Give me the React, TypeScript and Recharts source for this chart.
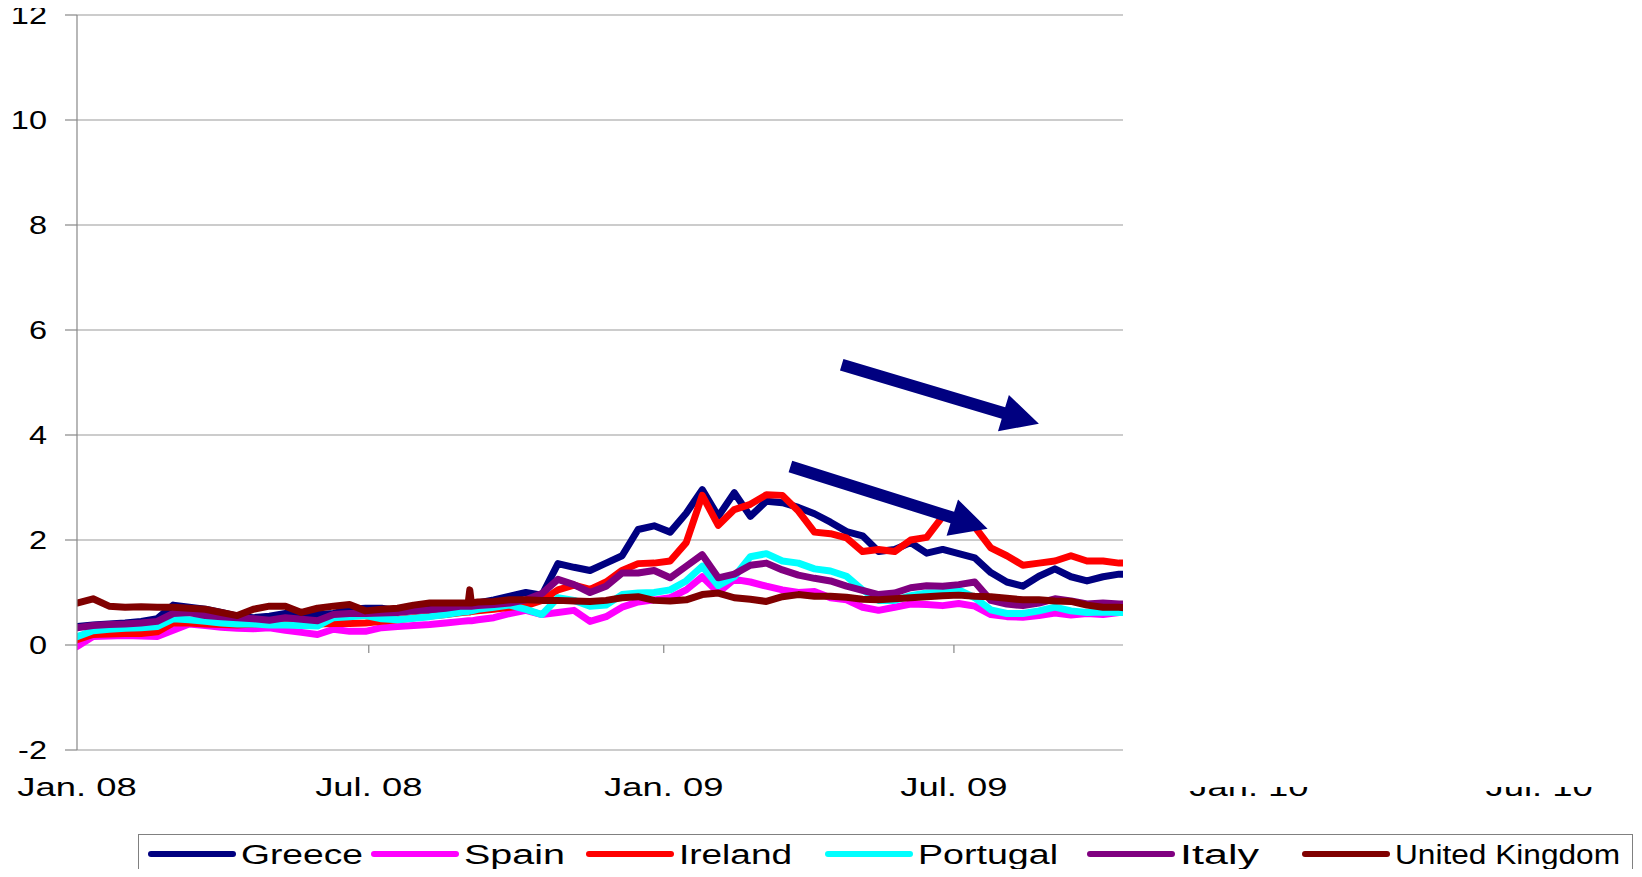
import React from "react";
import { LineChart, Line, XAxis, YAxis, CartesianGrid, ReferenceLine } from "recharts";

// days since 1 Jan 2008
const days = [0,10,20,30,40,50,60,70,80,90,100,110,120,130,140,150,160,170,180,190,200,210,220,230,240,244,245,246,250,260,270,280,290,300,310,320,330,340,350,360,370,380,390,400,410,420,430,440,450,460,470,480,490,500,510,520,530,540,550,560,570,580,590,600,610,620,630,640,650,656];

const greece = [0.35,0.38,0.40,0.42,0.45,0.50,0.76,0.72,0.68,0.62,0.55,0.52,0.55,0.60,0.60,0.58,0.60,0.68,0.70,0.70,0.65,0.68,0.71,0.74,0.76,0.77,0.77,0.78,0.80,0.86,0.93,1.00,0.95,1.55,1.48,1.42,1.56,1.70,2.20,2.27,2.15,2.51,2.96,2.45,2.90,2.45,2.74,2.71,2.62,2.50,2.34,2.16,2.08,1.78,1.82,1.95,1.75,1.82,1.74,1.66,1.38,1.20,1.12,1.31,1.45,1.30,1.22,1.30,1.35,1.35];
const spain = [-0.03,0.16,0.17,0.18,0.17,0.16,0.28,0.40,0.37,0.34,0.32,0.31,0.33,0.28,0.24,0.20,0.30,0.26,0.26,0.33,0.35,0.37,0.39,0.42,0.45,0.46,0.46,0.46,0.48,0.52,0.60,0.66,0.58,0.62,0.66,0.45,0.54,0.72,0.82,0.86,0.90,1.05,1.30,1.00,1.25,1.20,1.12,1.05,1.00,1.02,0.90,0.86,0.72,0.66,0.72,0.78,0.77,0.75,0.79,0.74,0.58,0.54,0.53,0.56,0.61,0.57,0.60,0.58,0.62,0.62];
const ireland = [0.10,0.20,0.21,0.22,0.22,0.25,0.42,0.42,0.40,0.39,0.38,0.40,0.40,0.40,0.40,0.40,0.41,0.41,0.42,0.45,0.48,0.52,0.55,0.58,0.62,0.63,0.63,0.64,0.65,0.68,0.72,0.75,0.85,1.05,1.14,1.06,1.20,1.42,1.55,1.56,1.60,1.95,2.85,2.28,2.58,2.68,2.86,2.85,2.55,2.15,2.12,2.04,1.78,1.82,1.78,2.00,2.05,2.45,2.45,2.25,1.85,1.70,1.52,1.56,1.60,1.70,1.60,1.60,1.56,1.56];
const portugal = [0.16,0.27,0.30,0.32,0.33,0.35,0.50,0.48,0.45,0.42,0.40,0.40,0.38,0.38,0.37,0.36,0.52,0.54,0.56,0.50,0.48,0.51,0.54,0.58,0.63,0.64,0.65,0.65,0.68,0.72,0.76,0.68,0.58,0.90,0.85,0.74,0.76,0.96,0.99,1.00,1.05,1.22,1.50,1.13,1.30,1.68,1.74,1.60,1.56,1.45,1.41,1.31,1.05,0.85,0.85,0.94,0.99,1.00,1.05,0.90,0.67,0.60,0.60,0.65,0.72,0.65,0.62,0.63,0.62,0.62];
const italy = [0.33,0.37,0.39,0.40,0.42,0.45,0.60,0.62,0.56,0.54,0.52,0.50,0.47,0.52,0.49,0.46,0.58,0.60,0.60,0.61,0.62,0.65,0.67,0.70,0.74,0.74,0.74,0.74,0.75,0.77,0.80,0.86,0.98,1.25,1.15,1.00,1.12,1.37,1.37,1.42,1.28,1.50,1.72,1.28,1.35,1.52,1.56,1.43,1.33,1.27,1.22,1.12,1.04,0.96,0.99,1.09,1.13,1.12,1.15,1.20,0.85,0.78,0.75,0.80,0.88,0.84,0.78,0.80,0.78,0.78];
const uk = [0.80,0.88,0.74,0.72,0.73,0.72,0.72,0.70,0.68,0.62,0.56,0.68,0.74,0.74,0.62,0.70,0.74,0.77,0.65,0.68,0.70,0.76,0.80,0.80,0.80,0.80,1.05,0.80,0.82,0.83,0.86,0.86,0.85,0.85,0.84,0.83,0.85,0.90,0.92,0.85,0.84,0.86,0.96,0.99,0.90,0.87,0.83,0.92,0.96,0.93,0.93,0.91,0.87,0.86,0.88,0.90,0.92,0.94,0.95,0.93,0.92,0.89,0.86,0.86,0.84,0.83,0.76,0.72,0.72,0.70];

const xTicks = [0, 182, 366, 547, 731, 912];
const xTickLabels = ["Jan. 08", "Jul. 08", "Jan. 09", "Jul. 09", "Jan. 10", "Jul. 10"];
const yTicks = [-2, 0, 2, 4, 6, 8, 10, 12];

const seriesNames = ["Greece", "Spain", "Ireland", "Portugal", "Italy", "United Kingdom"];
const seriesKeys = ["greece", "spain", "ireland", "portugal", "italy", "uk"];
const seriesColors = ["#000080", "#FF00FF", "#FF0000", "#00FFFF", "#800080", "#800000"];

// arrow annotations in data coordinates (day, value)
const arrowFrom = [[477, 5.34], [445, 3.4]];
const arrowTo = [[600, 4.215], [568, 2.215]];

const seriesValues = [greece, spain, ireland, portugal, italy, uk];
const data = days.map((d, i) => {
  const row: Record<string, number> = { day: d };
  seriesKeys.forEach((k, j) => (row[k] = seriesValues[j][i]));
  return row;
});

const FONT = "'Liberation Sans', Arial, Helvetica, sans-serif";

const YTick = (props: any) => {
  const { x, y, payload } = props;
  return (
    <text transform={`translate(${x},${y}) scale(1.3,1)`} textAnchor="end" dy={9} fontSize={25} fontFamily={FONT} fill="#000">
      {payload.value}
    </text>
  );
};

const XTick = (props: any) => {
  const { x, y, payload } = props;
  const idx = xTicks.indexOf(payload.value);
  return (
    <text transform={`translate(${x},${y + 46}) scale(1.4,1)`} textAnchor="middle" fontSize={26} fontFamily={FONT} fill="#000">
      {xTickLabels[idx]}
    </text>
  );
};

const ArrowShape = (props: any) => {
  const { x1, y1, x2, y2 } = props;
  if ([x1, y1, x2, y2].some((v) => typeof v !== "number" || isNaN(v))) return null;
  const dx = x2 - x1, dy = y2 - y1;
  const len = Math.sqrt(dx * dx + dy * dy);
  const ux = dx / len, uy = dy / len;
  const nx = -uy, ny = ux;
  const shaft = 6, head = 19, headLen = 37;
  const bx = x2 - ux * headLen, by = y2 - uy * headLen;
  const pts = [
    [x1 + nx * shaft, y1 + ny * shaft],
    [bx + nx * shaft, by + ny * shaft],
    [bx + nx * head, by + ny * head],
    [x2, y2],
    [bx - nx * head, by - ny * head],
    [bx - nx * shaft, by - ny * shaft],
    [x1 - nx * shaft, y1 - ny * shaft],
  ];
  return <polygon points={pts.map((p) => p.join(",")).join(" ")} fill="#000080" />;
};

// legend layout (px inside the legend box)
const legendX = [12, 235, 450, 689, 951, 1166];
const legendTextW = [122, 101, 113, 140, 79, 225];

export default function App() {
  return (
    <div style={{ position: "relative", top: -8, width: 1634, height: 861 }}>
      <LineChart width={1634} height={808} data={data} margin={{ top: 15, right: 42, bottom: 8, left: 0 }}>
        <CartesianGrid vertical={false} stroke="#999999" strokeWidth={1.2} />
        <XAxis
          dataKey="day"
          type="number"
          domain={[0, 950]}
          ticks={xTicks}
          allowDataOverflow
          axisLine={false}
          tickLine={false}
          tickSize={0}
          tickMargin={0}
          height={50}
          tick={<XTick />}
          interval={0}
        />
        <YAxis
          type="number"
          domain={[-2, 12]}
          ticks={yTicks}
          width={69}
          axisLine={{ stroke: "#888888", strokeWidth: 1.2 }}
          tickLine={{ stroke: "#888888", strokeWidth: 1.2 }}
          tickSize={12}
          tickMargin={18}
          tick={<YTick />}
          interval={0}
        />
        {xTicks.slice(1).map((t) => (
          <ReferenceLine key={"t" + t} segment={[{ x: t, y: 0 }, { x: t, y: -0.15 }]} stroke="#888888" strokeWidth={1.2} />
        ))}
        {seriesKeys.map((k, i) => (
          <Line
            key={k}
            dataKey={k}
            name={seriesNames[i]}
            stroke={seriesColors[i]}
            strokeWidth={7}
            dot={false}
            type="linear"
            strokeLinejoin="round"
            strokeLinecap="round"
            isAnimationActive={false}
          />
        ))}
        {arrowFrom.map((f, i) => (
          <ReferenceLine
            key={"a" + i}
            segment={[{ x: f[0], y: f[1] }, { x: arrowTo[i][0], y: arrowTo[i][1] }]}
            ifOverflow="visible"
            shape={(p: any) => <ArrowShape {...p} />}
          />
        ))}
      </LineChart>
      <div style={{ position: "absolute", left: 1115, top: 0, width: 519, height: 787, background: "#fff" }} />
      <div
        style={{
          position: "absolute",
          left: 130,
          top: 834,
          width: 1495,
          height: 41,
          border: "1px solid #808080",
          boxSizing: "border-box",
          background: "#fff",
        }}
      >
        <svg width={1493} height={39} style={{ display: "block" }}>
          {seriesNames.map((n, i) => (
            <g key={n}>
              <line x1={legendX[i]} y1={19} x2={legendX[i] + 82} y2={19} stroke={seriesColors[i]} strokeWidth={6} strokeLinecap="round" />
              <text
                x={legendX[i] + 90}
                y={29}
                textLength={legendTextW[i]}
                lengthAdjust="spacingAndGlyphs"
                fontSize={27}
                fontFamily={FONT}
                fill="#000"
              >
                {n}
              </text>
            </g>
          ))}
        </svg>
      </div>
    </div>
  );
}
